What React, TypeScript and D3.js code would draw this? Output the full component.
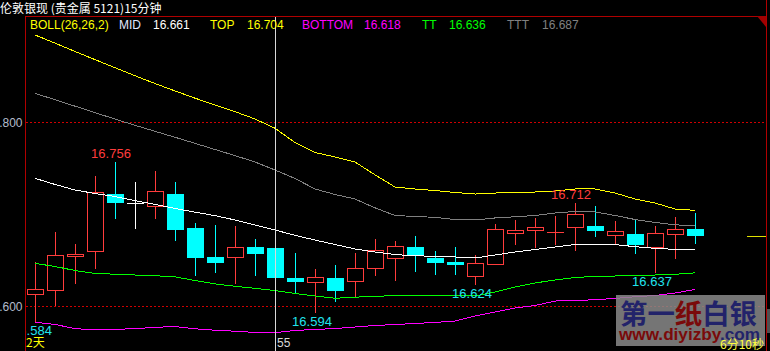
import React from 'react';
import * as d3 from 'd3';

const opens = [16.6127, 16.6171, 16.6548, 16.6595, 16.7217, 16.7123, 16.7084, 16.7217, 16.6848, 16.6533, 16.653, 16.6641, 16.663, 16.6304, 16.6258, 16.6304, 16.6268, 16.641, 16.6518, 16.6641, 16.6525, 16.6478, 16.6323, 16.646, 16.679, 16.6823, 16.6801, 16.6862, 16.687, 16.6775, 16.6783, 16.6645, 16.6779, 16.6837];
const highs = [16.6482, 16.6804, 16.6674, 16.7413, 16.756, 16.7348, 16.7467, 16.7348, 16.6902, 16.688, 16.687, 16.6728, 16.665, 16.6576, 16.6402, 16.6446, 16.6576, 16.6728, 16.6707, 16.6758, 16.6598, 16.6641, 16.6551, 16.6891, 16.6935, 16.6957, 16.6978, 16.712, 16.7087, 16.6924, 16.6949, 16.687, 16.6967, 16.7014];
const lows = [16.584, 16.6011, 16.6253, 16.641, 16.696, 16.6851, 16.696, 16.6721, 16.634, 16.6373, 16.6253, 16.634, 16.628, 16.6155, 16.594, 16.6058, 16.6101, 16.634, 16.6286, 16.6384, 16.6351, 16.6351, 16.624, 16.646, 16.6677, 16.6645, 16.6677, 16.6605, 16.6764, 16.6688, 16.6579, 16.637, 16.6518, 16.6688];
const closes = [16.6182, 16.6551, 16.6566, 16.7236, 16.7123, 16.7123, 16.7247, 16.6829, 16.6525, 16.6471, 16.6638, 16.6568, 16.6308, 16.6264, 16.6312, 16.6166, 16.6413, 16.6605, 16.6649, 16.6543, 16.6471, 16.6446, 16.6464, 16.6834, 16.6826, 16.6855, 16.6803, 16.7, 16.6818, 16.6815, 16.6666, 16.679, 16.6834, 16.6764];

const midLine = [16.7388, 16.7321, 16.7261, 16.7223, 16.719, 16.7145, 16.7105, 16.706, 16.702, 16.6982, 16.6935, 16.688, 16.6826, 16.6768, 16.6717, 16.6668, 16.662, 16.6587, 16.6559, 16.6546, 16.654, 16.6533, 16.6522, 16.6554, 16.6587, 16.6614, 16.6641, 16.6668, 16.6671, 16.6667, 16.6645, 16.6627, 16.6615, 16.661];
const topLine = [16.8946, 16.8857, 16.8767, 16.8678, 16.859, 16.8503, 16.8418, 16.8338, 16.8259, 16.8185, 16.8112, 16.8033, 16.7932, 16.7777, 16.7668, 16.762, 16.7565, 16.7426, 16.7293, 16.7272, 16.7255, 16.7234, 16.7217, 16.7228, 16.7234, 16.7239, 16.725, 16.7272, 16.7272, 16.7228, 16.7163, 16.712, 16.7054, 16.704];
const bottomLine = [16.5823, 16.5799, 16.5755, 16.5739, 16.5746, 16.5754, 16.5768, 16.5777, 16.5752, 16.5737, 16.5726, 16.5713, 16.571, 16.5734, 16.5745, 16.5755, 16.5772, 16.5788, 16.5799, 16.581, 16.5821, 16.5837, 16.5891, 16.5935, 16.5978, 16.6005, 16.6054, 16.606, 16.6068, 16.6082, 16.6101, 16.6114, 16.6141, 16.618];
const ttLine = [16.6464, 16.6429, 16.6386, 16.6353, 16.6346, 16.6337, 16.6329, 16.6317, 16.6277, 16.6241, 16.6214, 16.6192, 16.6168, 16.6136, 16.6109, 16.6084, 16.6096, 16.6104, 16.6114, 16.6116, 16.6116, 16.6116, 16.6109, 16.6152, 16.6207, 16.625, 16.6283, 16.631, 16.6321, 16.6326, 16.6329, 16.6337, 16.6345, 16.636];
const tttLine = [16.8312, 16.8242, 16.8172, 16.8102, 16.8032, 16.7964, 16.7899, 16.7834, 16.7768, 16.7701, 16.7635, 16.7565, 16.7478, 16.7386, 16.7272, 16.7212, 16.7163, 16.7067, 16.6984, 16.6973, 16.6964, 16.694, 16.6935, 16.6957, 16.697, 16.6984, 16.7011, 16.7027, 16.7022, 16.6984, 16.694, 16.6908, 16.6883, 16.687];

const yTicks = [16.6, 16.8];
const highMarks = [4, 27];
const lowMarks = [0, 14, 22, 31];
const crossIndex = 12;
const xLabelFirst = '2天';
const xLabelCross = '55';
const title = '伦敦银现 (贵金属  5121)15分钟';
const countdown = '6分10秒';

const W = 770;
const H = 351;
const RED = '#ff3c3c';
const CYAN = '#00ffff';
const AXIS = '#b00000';
const LAT = "'Liberation Sans', Arial, sans-serif";
const CJK = "'Noto Sans CJK SC', sans-serif";

export default function App() {
  const idx = d3.range(opens.length);
  const x = d3.scaleBand<number>().domain(idx).range([25, 705]).paddingInner(0.2).paddingOuter(0.1);
  const y = d3.scaleLinear().domain([16.6, 16.8]).range([306, 122]);
  const cx = (i: number) => (x(i) ?? 0) + x.bandwidth() / 2;
  const fmt = d3.format('.3f');

  const line = d3
    .line<number>()
    .x((_, i) => cx(i))
    .y((d) => y(d));

  const series = [
    { data: tttLine, color: '#808080' },
    { data: topLine, color: '#ffff00' },
    { data: bottomLine, color: '#ff00ff' },
    { data: ttLine, color: '#00ff00' },
    { data: midLine, color: '#ffffff' },
  ];

  const candles = idx.map((i) => {
    const o = opens[i], c = closes[i], h = highs[i], l = lows[i];
    const top = Math.round(y(Math.max(o, c)));
    const bot = Math.round(y(Math.min(o, c)));
    const hi = Math.round(y(h));
    const lo = Math.round(y(l));
    const xc = Math.round(cx(i)) + 0.5;
    const left = Math.round(x(i) ?? 0);
    if (c > o) {
      return (
        <g key={i}>
          {hi < top && <line x1={xc} x2={xc} y1={hi} y2={top} stroke={RED} />}
          {lo > bot && <line x1={xc} x2={xc} y1={bot} y2={lo + 1} stroke={RED} />}
          {bot - top >= 1 ? (
            <rect x={left + 0.5} y={top + 0.5} width={16} height={bot - top} fill="none" stroke={RED} />
          ) : (
            <line x1={left} x2={left + 17} y1={top + 0.5} y2={top + 0.5} stroke={RED} />
          )}
        </g>
      );
    }
    if (c < o) {
      return (
        <g key={i}>
          <line x1={xc} x2={xc} y1={hi} y2={lo + 1} stroke={CYAN} />
          <rect x={left} y={top} width={17} height={Math.max(bot - top, 1)} fill={CYAN} />
        </g>
      );
    }
    return (
      <g key={i}>
        <line x1={xc} x2={xc} y1={hi} y2={lo + 1} stroke="#ffffff" />
        <line x1={left} x2={left + 17} y1={top + 0.5} y2={top + 0.5} stroke="#ffffff" />
      </g>
    );
  });

  const crossX = Math.round(cx(crossIndex)) + 0.5;
  const last = closes.length - 1;

  const legend = [
    { t: 'BOLL(26,26,2)', x: 30, c: '#ffff00' },
    { t: 'MID', x: 119, c: '#e0e8ff' },
    { t: fmt(midLine[last]), x: 153, c: '#ffffff' },
    { t: 'TOP', x: 210, c: '#ffff00' },
    { t: fmt(topLine[last]), x: 247, c: '#ffff00' },
    { t: 'BOTTOM', x: 302, c: '#ff00ff' },
    { t: fmt(bottomLine[last]), x: 364, c: '#ff00ff' },
    { t: 'TT', x: 422, c: '#00ff00' },
    { t: fmt(ttLine[last]), x: 449, c: '#00ff00' },
    { t: 'TTT', x: 507, c: '#808080' },
    { t: fmt(tttLine[last]), x: 542, c: '#808080' },
  ];

  return (
    <svg
      width={W}
      height={H}
      style={{ position: 'absolute', left: 0, top: 0, display: 'block' }}
      xmlns="http://www.w3.org/2000/svg"
    >
      <defs>
        <clipPath id="plot">
          <rect x={25} y={17} width={741} height={334} />
        </clipPath>
      </defs>
      <rect x={0} y={0} width={W} height={H} fill="#000" />

      {yTicks.map((t) => (
        <line
          key={t}
          x1={26}
          x2={766}
          y1={Math.round(y(t)) + 0.5}
          y2={Math.round(y(t)) + 0.5}
          stroke="#d00000"
          strokeDasharray="2,2"
        />
      ))}

      <g clipPath="url(#plot)">
        {candles}
        {series.map((s, k) => (
          <path key={k} d={line(s.data) ?? ''} fill="none" stroke={s.color} strokeWidth={1} shapeRendering="crispEdges" />
        ))}
        <line x1={crossX} x2={crossX} y1={14} y2={H} stroke="#d8d8d8" />

        {highMarks.map((i) => (
          <text key={'h' + i} x={cx(i) - 4} y={y(highs[i]) - 4} fill={RED} fontSize={13} fontFamily={LAT} textAnchor="middle">
            {fmt(highs[i])}
          </text>
        ))}
        {lowMarks.map((i) => (
          <text key={'l' + i} x={cx(i) - 3} y={y(lows[i]) + 14} fill="#20e4ee" fontSize={13} fontFamily={LAT} textAnchor="middle">
            {fmt(lows[i])}
          </text>
        ))}

        <line x1={747} x2={766} y1={Math.round(y(closes[last])) + 0.5} y2={Math.round(y(closes[last])) + 0.5} stroke="#e0e000" />
      </g>

      {yTicks.map((t) => (
        <text key={'yl' + t} x={22.5} y={y(t) + 5} fill="#b4bccc" fontSize={12} fontFamily={LAT} textAnchor="end">
          {fmt(t)}
        </text>
      ))}

      <text x={26} y={347} fill="#ffff00" fontSize={12} fontFamily={CJK}>
        {xLabelFirst}
      </text>
      <text x={crossX + 1.5} y={347} fill="#d8d8d8" fontSize={12} fontFamily={LAT}>
        {xLabelCross}
      </text>

      <g>
        <rect x={616} y={295} width={149} height={51} fill="#8a8a8a" opacity={0.85} />
        <text x={620} y={324} fontSize={27} fontWeight={700} fontFamily={CJK} textLength={137} lengthAdjust="spacingAndGlyphs">
          <tspan fill="#22236a">第一</tspan>
          <tspan fill="#7a0a0a">纸</tspan>
          <tspan fill="#22236a">白银</tspan>
        </text>
        <text x={619} y={340} fontSize={16} fontWeight={700} fontFamily={LAT} textLength={141} lengthAdjust="spacingAndGlyphs">
          <tspan fill="#7a0a0a">www.diyizby</tspan>
          <tspan fill="#22236a">.com</tspan>
        </text>
      </g>
      <text x={720} y={349} fill="#ffff40" fontSize={12} fontFamily={CJK}>
        {countdown}
      </text>

      <line x1={25.5} x2={25.5} y1={16} y2={H} stroke={AXIS} />
      <line x1={25} x2={766} y1={16.5} y2={16.5} stroke={AXIS} />
      <line x1={766.5} x2={766.5} y1={0} y2={H} stroke={AXIS} />
      <path d="M757,16 L766,16 L766,27 Z" fill="#a00000" />
      <rect x={767} y={309} width={3} height={24} fill="#505050" />

      <text x={0} y={13} fill="#ffffff" fontSize={12} fontFamily={CJK}>
        {title}
      </text>
      {legend.map((d) => (
        <text key={d.t + d.x} x={d.x} y={29} fill={d.c} fontSize={12} fontFamily={LAT}>
          {d.t}
        </text>
      ))}
    </svg>
  );
}
